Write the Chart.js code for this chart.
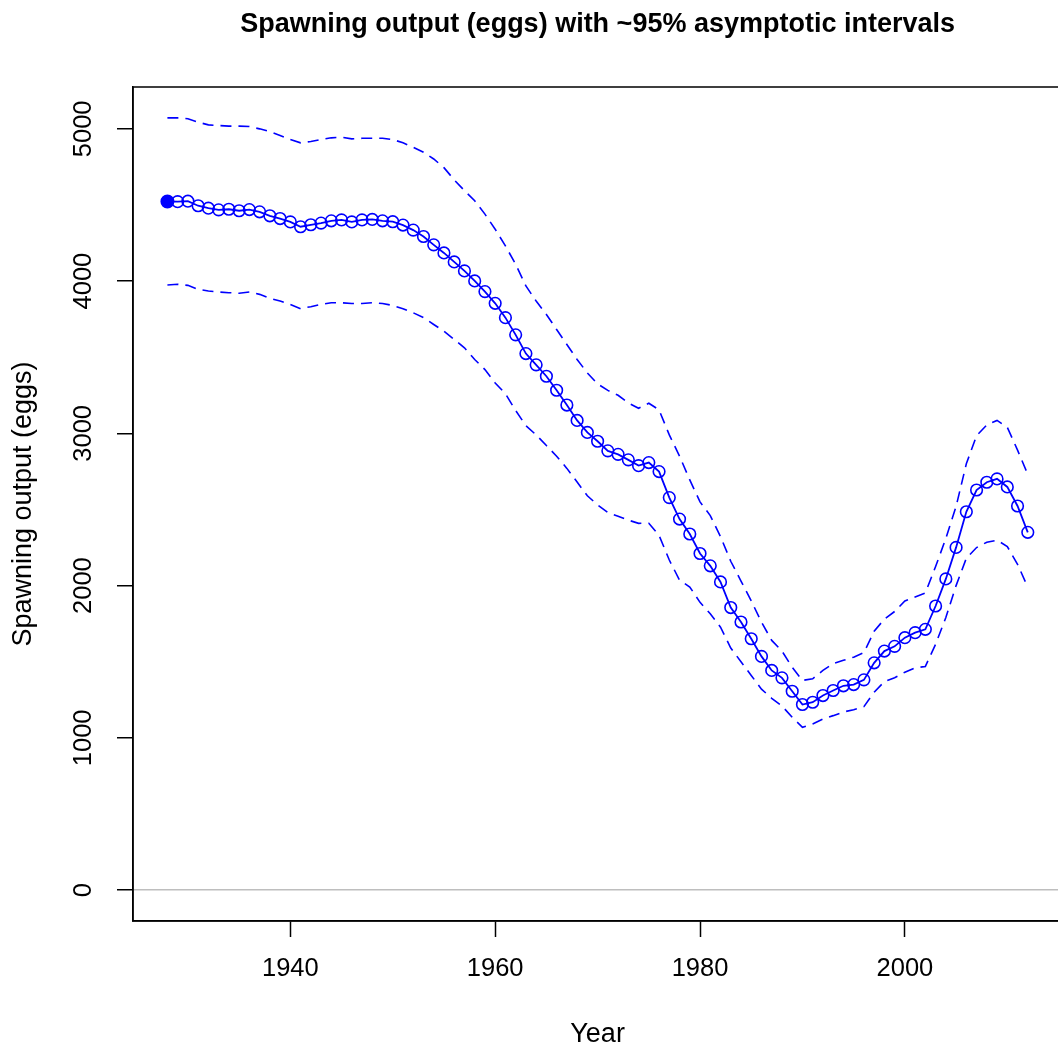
<!DOCTYPE html>
<html><head><meta charset="utf-8">
<script src="https://cdn.jsdelivr.net/npm/chart.js@4.4.1/dist/chart.umd.min.js"></script>
<style>
html,body{margin:0;padding:0;overflow:hidden;background:#fff;width:1058px;height:1051px}
#wrap{width:1070px;height:1051px}
canvas{display:block}
</style></head>
<body><div id="wrap"><canvas id="c" width="1070" height="1051"></canvas></div>
<script>
const years = [1928,1929,
 1930,1931,1932,1933,1934,1935,1936,1937,1938,1939,
 1940,1941,1942,1943,1944,1945,1946,1947,1948,1949,
 1950,1951,1952,1953,1954,1955,1956,1957,1958,1959,
 1960,1961,1962,1963,1964,1965,1966,1967,1968,1969,
 1970,1971,1972,1973,1974,1975,1976,1977,1978,1979,
 1980,1981,1982,1983,1984,1985,1986,1987,1988,1989,
 1990,1991,1992,1993,1994,1995,1996,1997,1998,1999,
 2000,2001,2002,2003,2004,2005,2006,2007,2008,2009,
 2010,2011,2012];
const spawning = [4523,4522,
 4525,4495,4479,4468,4472,4462,4470,4455,4429,4411,
 4389,4357,4370,4381,4396,4402,4389,4402,4405,4396,
 4390,4368,4335,4293,4238,4185,4126,4067,4001,3931,
 3854,3760,3647,3524,3450,3375,3283,3186,3085,3006,
 2948,2885,2862,2826,2788,2808,2749,2578,2437,2339,
 2211,2130,2024,1856,1761,1651,1535,1443,1394,1306,
 1219,1234,1278,1311,1342,1350,1381,1493,1570,1601,
 1658,1691,1713,1866,2044,2251,2485,2628,2679,2701,
 2648,2523,2350];
const upper = [5072,5072,
 5066,5044,5026,5022,5018,5018,5015,5000,4982,4956,
 4930,4908,4917,4930,4941,4945,4934,4938,4938,4938,
 4930,4908,4879,4846,4802,4745,4665,4594,4528,4440,
 4341,4231,4111,3968,3869,3781,3682,3584,3485,3397,
 3325,3282,3250,3200,3165,3198,3154,2990,2850,2694,
 2550,2460,2322,2160,2030,1900,1760,1640,1570,1464,
 1377,1388,1443,1487,1509,1530,1560,1700,1780,1830,
 1899,1925,1952,2125,2310,2520,2800,2985,3055,3085,
 3040,2890,2730];
const lower = [3974,3979,
 3972,3946,3935,3928,3924,3920,3928,3913,3887,3869,
 3847,3819,3832,3847,3858,3858,3853,3853,3858,3853,
 3840,3819,3792,3760,3715,3671,3617,3562,3485,3419,
 3331,3260,3150,3050,2990,2920,2850,2770,2680,2590,
 2530,2480,2455,2430,2409,2410,2330,2168,2036,1991,
 1890,1815,1727,1590,1500,1410,1320,1260,1210,1135,
 1069,1091,1124,1146,1170,1185,1205,1300,1370,1395,
 1431,1460,1469,1615,1790,2000,2180,2250,2285,2298,
 2257,2140,1990];
const xTicks = [1940,1960,1980,2000];
const yTicks = [0,1000,2000,3000,4000,5000];
const titleText = 'Spawning output (eggs) with ~95% asymptotic intervals';
const xTitle = 'Year';
const yTitle = 'Spawning output (eggs)';

const FONT = "'Liberation Sans', Arial, sans-serif";
const BLUE = '#0000ff';
const pts = arr => years.map((yr, i) => ({x: yr, y: arr[i]}));
const xPad = (years[years.length - 1] - years[0]) * 0.04;
const yMax = Math.max(...upper);
const yPad = yMax * 0.04;

const frame = {
  id: 'frame',
  afterDraw(chart) {
    const {ctx, chartArea: a} = chart;
    ctx.save();
    ctx.strokeStyle = '#000';
    ctx.lineWidth = 1.5;
    ctx.strokeRect(a.left, a.top, a.right - a.left, a.bottom - a.top);
    ctx.fillStyle = '#000';
    ctx.font = 'bold 27px ' + FONT;
    ctx.textAlign = 'center';
    ctx.textBaseline = 'middle';
    ctx.fillText(titleText, (a.left + a.right) / 2, 25);
    ctx.restore();
  }
};

new Chart(document.getElementById('c'), {
  type: 'line',
  data: {
    datasets: [
      {data: pts(upper), borderColor: BLUE, borderWidth: 1.6, borderDash: [11, 7], pointRadius: 0, fill: false, tension: 0},
      {data: pts(lower), borderColor: BLUE, borderWidth: 1.6, borderDash: [11, 7], pointRadius: 0, fill: false, tension: 0},
      {data: pts(spawning), borderColor: BLUE, borderWidth: 1.8, fill: false, tension: 0,
       pointRadius: years.map((y, i) => i === 0 ? 6.2 : 5.8),
       pointBorderWidth: 1.6,
       pointBorderColor: BLUE,
       pointBackgroundColor: years.map((y, i) => i === 0 ? BLUE : 'rgba(0,0,0,0)')}
    ]
  },
  options: {
    responsive: false,
    animation: false,
    devicePixelRatio: 1,
    layout: {padding: {top: 87, right: 5, left: 0, bottom: 0}},
    plugins: {legend: {display: false}, tooltip: {enabled: false}, title: {display: false}},
    scales: {
      x: {
        type: 'linear',
        min: years[0] - xPad,
        max: years[years.length - 1] + xPad,
        afterBuildTicks: s => { s.ticks = xTicks.map(v => ({value: v})); },
        afterFit: s => { s.height = 130; },
        grid: {drawOnChartArea: false, drawTicks: true, tickLength: 16, tickColor: '#000', tickWidth: 1.5},
        border: {display: true, color: '#000', width: 1.5},
        ticks: {color: '#000', font: {family: FONT, size: 25.5}, padding: 17, maxRotation: 0, autoSkip: false,
                callback: v => String(v)},
        title: {display: true, text: xTitle, color: '#000', font: {family: FONT, size: 27}, padding: {top: 0, bottom: 0}}
      },
      y: {
        type: 'linear',
        min: -yPad,
        max: yMax + yPad,
        afterBuildTicks: s => { s.ticks = yTicks.map(v => ({value: v})); },
        afterFit: s => { s.width = 133; },
        grid: {
          color: c => (c.tick && c.tick.value === 0) ? '#bebebe' : 'rgba(0,0,0,0)',
          lineWidth: 1.5, drawTicks: true, tickLength: 16, tickColor: '#000', tickWidth: 1.5
        },
        border: {display: true, color: '#000', width: 1.5},
        ticks: {color: '#000', font: {family: FONT, size: 25.5}, padding: 4.5, minRotation: 90, maxRotation: 90,
                crossAlign: 'center', autoSkip: false, callback: v => String(v)},
        title: {display: true, text: yTitle, color: '#000', font: {family: FONT, size: 27}, padding: {top: 7, bottom: 0}}
      }
    }
  },
  plugins: [frame]
});
</script>
</body></html>
